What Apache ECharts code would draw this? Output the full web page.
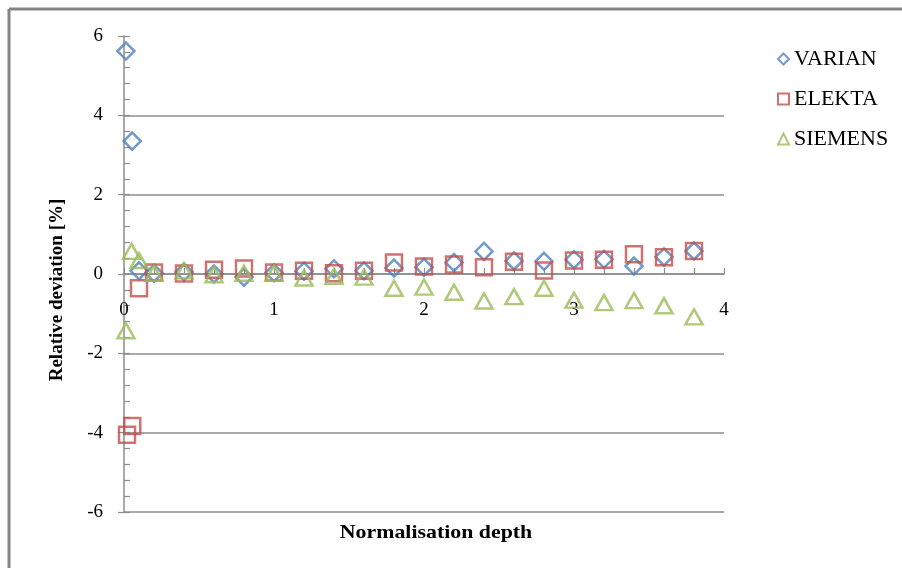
<!DOCTYPE html>
<html>
<head>
<meta charset="utf-8">
<script src="https://cdn.jsdelivr.net/npm/echarts@6/dist/echarts.min.js"></script>
<style>
  html, body { margin: 0; padding: 0; background: #fff; }
  #chart { width: 902px; height: 568px; }
</style>
</head>
<body>
<div id="chart"></div>
<script>
// Normalisation depth (x) and relative deviation in % (y) per linac vendor
const varianDepth = [0.013, 0.055, 0.1, 0.2, 0.4, 0.6, 0.8, 1.0, 1.2, 1.4, 1.6, 1.8, 2.0, 2.2, 2.4, 2.6, 2.8, 3.0, 3.2, 3.4, 3.6, 3.8];
const varianDev   = [5.62, 3.35, 0.08, 0.02, 0.05, 0.0, -0.08, 0.03, 0.07, 0.13, 0.08, 0.15, 0.17, 0.29, 0.57, 0.33, 0.32, 0.36, 0.37, 0.2, 0.43, 0.58];

const elektaDepth = [0.02, 0.055, 0.1, 0.2, 0.4, 0.6, 0.8, 1.0, 1.2, 1.4, 1.6, 1.8, 2.0, 2.2, 2.4, 2.6, 2.8, 3.0, 3.2, 3.4, 3.6, 3.8];
const elektaDev   = [-4.05, -3.83, -0.36, 0.04, 0.01, 0.11, 0.14, 0.04, 0.08, 0.02, 0.08, 0.29, 0.19, 0.24, 0.17, 0.31, 0.09, 0.34, 0.36, 0.5, 0.42, 0.58];

const siemensDepth = [0.013, 0.05, 0.1, 0.2, 0.4, 0.6, 0.8, 1.0, 1.2, 1.4, 1.6, 1.8, 2.0, 2.2, 2.4, 2.6, 2.8, 3.0, 3.2, 3.4, 3.6, 3.8];
const siemensDev   = [-1.43, 0.57, 0.34, 0.02, 0.08, -0.02, 0.02, 0.02, -0.1, -0.06, -0.08, -0.36, -0.33, -0.46, -0.68, -0.57, -0.36, -0.66, -0.72, -0.67, -0.8, -1.08];

const seriesNames = ['VARIAN', 'ELEKTA', 'SIEMENS'];
const xTitle = 'Normalisation depth';
const yTitle = 'Relative deviation [%]';

const pairs = (xs, ys) => xs.map((x, i) => [x, ys[i]]);

const serif = '"Liberation Serif", "DejaVu Serif", serif';
const axisGray = '#8c8c8c';

// plot box: the depth axis crosses the deviation axis at 0, half way down
const gridTop = 36, gridBottom = 56, chartH = 568;
const zeroOffset = -((chartH - gridTop - gridBottom) / 2);

const chart = echarts.init(document.getElementById('chart'), null, { renderer: 'canvas' });

function hollow(name, data, symbol, size, color) {
  return {
    name: name,
    type: 'scatter',
    data: data,
    symbol: symbol,
    symbolSize: size,
    itemStyle: { color: 'rgba(255,255,255,0)', borderColor: color, borderWidth: 2.5 },
    emphasis: { disabled: true },
    z: 3
  };
}

chart.setOption({
  animation: false,
  backgroundColor: '#fff',
  grid: { left: 124, right: 178, top: gridTop, bottom: gridBottom, containLabel: false },
  legend: {
    orient: 'vertical',
    left: 772,
    top: 43,
    itemWidth: 11,
    itemHeight: 11,
    itemGap: 18,
    textStyle: { fontFamily: serif, fontSize: 22, color: '#000' },
    data: [
      { name: seriesNames[0], icon: 'diamond' },
      { name: seriesNames[1], icon: 'rect' },
      { name: seriesNames[2], icon: 'triangle' }
    ]
  },
  xAxis: {
    type: 'value',
    min: 0,
    max: 4,
    interval: 0.2,
    position: 'bottom',
    offset: zeroOffset,
    axisLine: { onZero: false, lineStyle: { color: axisGray, width: 1.5 } },
    axisTick: { inside: true, length: 6, lineStyle: { color: axisGray, width: 1.2 } },
    axisLabel: {
      margin: 27,
      fontFamily: serif,
      fontSize: 19,
      color: '#000',
      formatter: v => (Math.abs(v - Math.round(v)) < 1e-6 ? String(Math.round(v)) : '')
    },
    splitLine: { show: false }
  },
  yAxis: [
    {
      type: 'value',
      min: -6,
      max: 6,
      interval: 2,
      axisLine: { show: true, onZero: false, lineStyle: { color: axisGray, width: 1.5 } },
      axisTick: { show: true, inside: false, length: 6, lineStyle: { color: axisGray, width: 1.2 } },
      axisLabel: { margin: 21, fontFamily: serif, fontSize: 19, color: '#000' },
      splitLine: { show: true, showMaxLine: false, lineStyle: { color: axisGray, width: 1.5 } }
    },
    {
      type: 'value',
      min: -6,
      max: 6,
      interval: 0.4,
      position: 'left',
      axisLine: { show: false, onZero: false },
      axisTick: { show: true, inside: true, length: 6, lineStyle: { color: axisGray, width: 1.2 } },
      axisLabel: { show: false },
      splitLine: { show: false }
    }
  ],
  graphic: [
    // frame edges on the left and top
    { type: 'line', shape: { x1: 9, y1: 9, x2: 9, y2: 568 }, style: { stroke: '#858585', lineWidth: 3 }, z: 10 },
    { type: 'line', shape: { x1: 9, y1: 9, x2: 902, y2: 9 }, style: { stroke: '#858585', lineWidth: 3 }, z: 10 },
    {
      type: 'text', x: 436, y: 533, scaleX: 1.15,
      style: { text: xTitle, font: 'bold 19px ' + serif, fill: '#000', align: 'center', verticalAlign: 'middle' }
    },
    {
      type: 'text', x: 57, y: 290, rotation: Math.PI / 2,
      style: { text: yTitle, font: 'bold 19px ' + serif, fill: '#000', align: 'center', verticalAlign: 'middle' }
    }
  ],
  series: [
    hollow(seriesNames[0], pairs(varianDepth, varianDev), 'diamond', 17, '#4F81BD'),
    hollow(seriesNames[1], pairs(elektaDepth, elektaDev), 'rect', 16, '#C0504D'),
    hollow(seriesNames[2], pairs(siemensDepth, siemensDev), 'triangle', [17, 15], '#9BBB59')
  ]
});
</script>
</body>
</html>
